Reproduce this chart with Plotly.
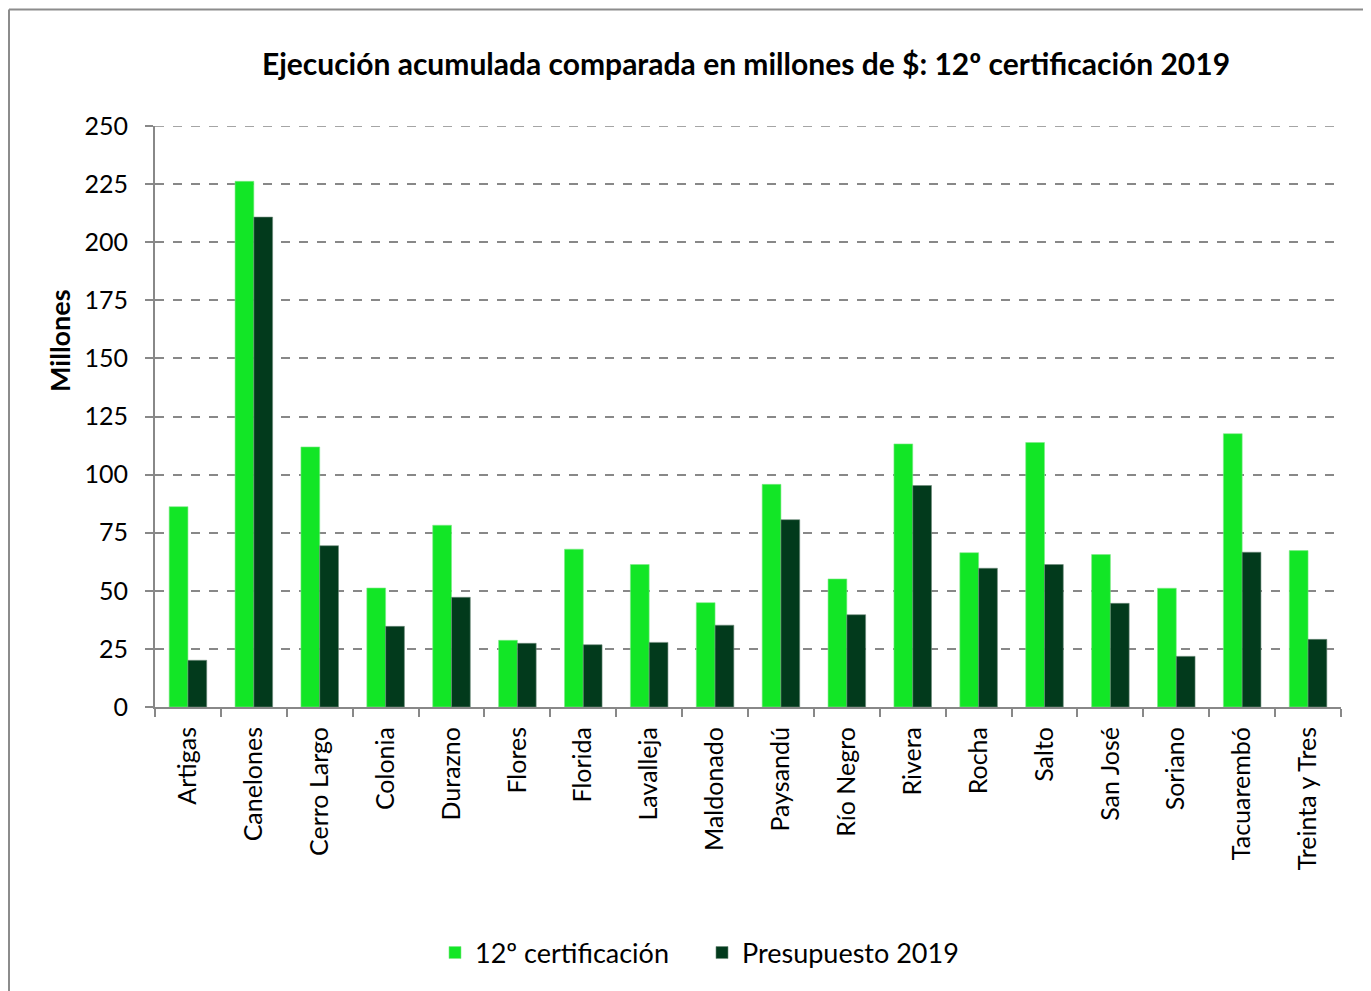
import plotly.graph_objects as go

categorias = ["Artigas", "Canelones", "Cerro Largo", "Colonia", "Durazno", "Flores",
              "Florida", "Lavalleja", "Maldonado", "Paysandú", "Río Negro", "Rivera",
              "Rocha", "Salto", "San José", "Soriano", "Tacuarembó", "Treinta y Tres"]
certificacion_12 = [86.2, 226.2, 111.9, 51.2, 78.2, 28.7, 67.9, 61.3, 44.9, 95.8,
                    55.1, 113.2, 66.4, 113.8, 65.6, 51.1, 117.6, 67.3]
presupuesto_2019 = [20.1, 210.8, 69.4, 34.7, 47.2, 27.4, 26.8, 27.8, 35.2, 80.6,
                    39.7, 95.3, 59.7, 61.3, 44.6, 21.8, 66.6, 29.1]
y_ticks = [0, 25, 50, 75, 100, 125, 150, 175, 200, 225, 250]

FONT = "Lato"
OFF = 8  # page body offset
W, H = 1371 - OFF, 991 - OFF
# target page coordinates of plot area: x 155..1341, y 126..707
L, T = 155 - OFF, 126 - OFF
R = W - (1341 - OFF)
B = H - (707 - OFF)
pw, ph = W - L - R, H - T - B

def px(x):  # page x -> paper
    return (x - OFF - L) / pw

def py(y):  # page y -> paper
    return (H - B - (y - OFF)) / ph

fig = go.Figure()
fig.add_trace(go.Bar(x=categorias, y=certificacion_12, name="12º certificación",
                     marker=dict(color="#12E626", line=dict(color="#7FEA88", width=0.6))))
fig.add_trace(go.Bar(x=categorias, y=presupuesto_2019, name="Presupuesto 2019",
                     marker=dict(color="#023A1C", line=dict(color="#6E8C7A", width=0.6))))

fig.update_layout(
    width=W, height=H,
    margin=dict(l=L, r=R, t=T, b=B),
    paper_bgcolor="white", plot_bgcolor="white",
    barmode="group", bargap=0.43, bargroupgap=0,
    font=dict(family=FONT, color="black"),
    title=dict(text="<b>Ejecución acumulada comparada en millones de $: 12º certificación 2019</b>",
               xref="container", x=(746 - OFF) / W, xanchor="center",
               yref="container", y=1 - (64 - OFF) / H, yanchor="middle",
               font=dict(family=FONT, size=30, color="black")),
    showlegend=True,
    legend=dict(orientation="h", x=px(435), xanchor="left", y=py(953), yanchor="middle",
                font=dict(family=FONT, size=27, color="black"), itemwidth=30,
                entrywidth=222, entrywidthmode="pixels", traceorder="normal"),
    xaxis=dict(type="category", tickson="boundaries", ticks="outside", ticklen=8,
               tickcolor="#888888", tickwidth=2, showline=True, linecolor="#888888",
               linewidth=2, showgrid=False, tickangle=-90, ticklabelstandoff=8,
               tickfont=dict(family=FONT, size=25, color="black")),
    yaxis=dict(range=[0, 250], tickvals=y_ticks, ticks="outside", ticklen=8,
               tickcolor="#888888", tickwidth=2, showline=True, linecolor="#888888",
               linewidth=2, showgrid=True, gridcolor="#888888", gridwidth=1.5,
               griddash="dash", zeroline=False, ticklabelstandoff=12,
               tickfont=dict(family=FONT, size=25, color="black")),
)

# y-axis title (placed higher than the plot-area centre, as in the original)
fig.add_annotation(text="<b>Millones</b>", xref="paper", yref="paper",
                   x=px(59), y=py(341), xanchor="center", yanchor="middle",
                   textangle=-90, showarrow=False,
                   font=dict(family=FONT, size=27, color="black"))

# top gridline at 250 (coincides with plot edge)
fig.add_shape(type="line", xref="paper", yref="y", x0=0, x1=1, y0=250, y1=250,
              line=dict(color="#888888", width=1.5, dash="dash"))

# outer chart border (top and left visible)
fig.add_shape(type="line", xref="paper", yref="paper", x0=px(9), x1=px(1380),
              y0=py(9.5), y1=py(9.5), line=dict(color="#8C8C8C", width=2))
fig.add_shape(type="line", xref="paper", yref="paper", x0=px(9), x1=px(9),
              y0=py(9.5), y1=py(1000), line=dict(color="#8C8C8C", width=2))

fig.write_html("out.html")
